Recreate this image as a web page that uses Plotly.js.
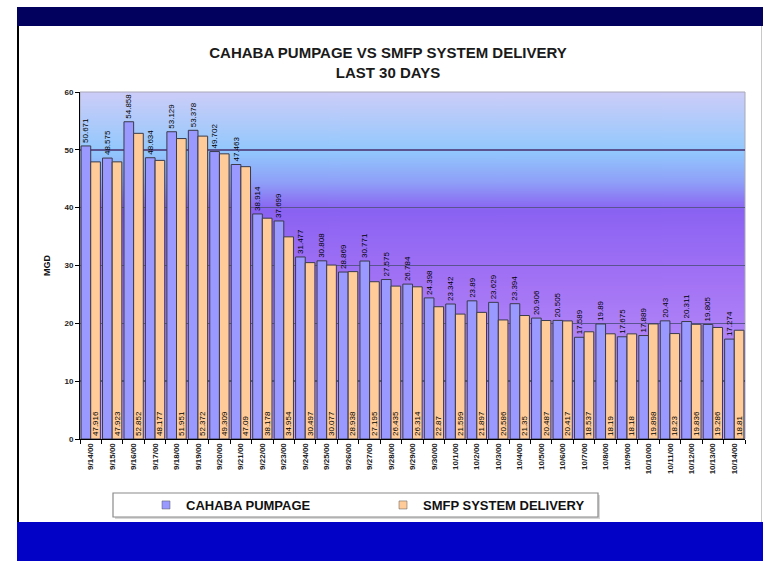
<!DOCTYPE html>
<html>
<head>
<meta charset="utf-8">
<script src="https://cdn.plot.ly/plotly-3.0.1.min.js"></script>
<style>
  html, body { margin: 0; padding: 0; background: #ffffff; }
  #chart { width: 763px; height: 561px; }
</style>
</head>
<body>
<div id="chart"></div>
<script>
// ---- Data ----
const dates = ['9/14/00','9/15/00','9/16/00','9/17/00','9/18/00','9/19/00','9/20/00','9/21/00',
  '9/22/00','9/23/00','9/24/00','9/25/00','9/26/00','9/27/00','9/28/00','9/29/00','9/30/00',
  '10/1/00','10/2/00','10/3/00','10/4/00','10/5/00','10/6/00','10/7/00','10/8/00','10/9/00',
  '10/10/00','10/11/00','10/12/00','10/13/00','10/14/00'];
const pumpage = [50.671, 48.575, 54.858, 48.634, 53.129, 53.378, 49.702, 47.463,
  38.914, 37.699, 31.477, 30.808, 28.869, 30.771, 27.575, 26.784, 24.398,
  23.342, 23.89, 23.629, 23.394, 20.906, 20.505, 17.589, 19.89, 17.675,
  17.889, 20.43, 20.311, 19.805, 17.274];
const delivery = [47.916, 47.923, 52.852, 48.177, 51.951, 52.372, 49.309, 47.09,
  38.178, 34.954, 30.497, 30.077, 28.938, 27.195, 26.435, 26.314, 22.87,
  21.599, 21.897, 20.586, 21.35, 20.487, 20.417, 18.537, 18.19, 18.18,
  19.898, 18.23, 19.836, 19.286, 18.81];
const seriesNames = ['CAHABA PUMPAGE', 'SMFP SYSTEM DELIVERY'];
const yTicks = [0, 10, 20, 30, 40, 50, 60];
const titleLines = ['CAHABA PUMPAGE VS SMFP SYSTEM DELIVERY', 'LAST 30 DAYS'];
const yTitle = 'MGD';

// ---- Layout geometry (pixels) ----
const W = 763, H = 561;
const PL = 80, PR = 745, PT = 92, PB = 439;
const px = v => (v - PL) / (PR - PL);
const py = v => (PB - v) / (PB - PT);

// ---- Background gradient for plot area ----
const cv = document.createElement('canvas');
cv.width = 4; cv.height = 400;
const ctx = cv.getContext('2d');
const g = ctx.createLinearGradient(0, 0, 0, 400);
g.addColorStop(0.00, '#cdcdf8');
g.addColorStop(0.17, '#92c8fd');
g.addColorStop(0.26, '#8fa0f8');
g.addColorStop(0.34, '#8a62f2');
g.addColorStop(0.55, '#a373f5');
g.addColorStop(1.00, '#c6a2fb');
ctx.fillStyle = g;
ctx.fillRect(0, 0, 4, 400);
const bgURL = cv.toDataURL('image/png');

const FONT = 'Liberation Sans, Arial, sans-serif';

const traces = [
  {
    type: 'bar', name: seriesNames[0], x: dates, y: pumpage,
    marker: { color: '#9999ff', line: { color: '#3a3a4a', width: 1 } },
    text: pumpage.map(String), texttemplate: '%{text}',
    textposition: 'outside', textangle: -90, cliponaxis: false,
    constraintext: 'none',
    textfont: { family: FONT, size: 8, color: '#000000' },
    showlegend: false, hoverinfo: 'x+y'
  },
  {
    type: 'bar', name: seriesNames[1], x: dates, y: delivery,
    marker: { color: '#ffcc99', line: { color: '#3a3a4a', width: 1 } },
    text: delivery.map(String), texttemplate: '%{text}',
    textposition: 'inside', insidetextanchor: 'start', textangle: -90,
    constraintext: 'none',
    insidetextfont: { family: FONT, size: 8, color: '#000000' },
    showlegend: false, hoverinfo: 'x+y'
  },
  // legend entries (small square swatches like the original)
  {
    type: 'scatter', mode: 'markers', name: seriesNames[0], x: [null], y: [null],
    marker: { symbol: 'square', size: 8, color: '#9999ff', line: { color: '#555', width: 0.5 } },
    showlegend: true, hoverinfo: 'skip'
  },
  {
    type: 'scatter', mode: 'markers', name: seriesNames[1], x: [null], y: [null],
    marker: { symbol: 'square', size: 8, color: '#ffcc99', line: { color: '#555', width: 0.5 } },
    showlegend: true, hoverinfo: 'skip'
  }
];

const shapes = [
  // top navy band
  { type: 'rect', xref: 'paper', yref: 'paper', x0: px(17), x1: px(763), y0: py(26), y1: py(7),
    fillcolor: '#02025e', line: { width: 0 }, layer: 'below' },
  // bottom blue band
  { type: 'rect', xref: 'paper', yref: 'paper', x0: px(17), x1: px(763), y0: py(561), y1: py(522),
    fillcolor: '#0202c6', line: { width: 0 }, layer: 'below' },
  // left dark border
  { type: 'rect', xref: 'paper', yref: 'paper', x0: px(17), x1: px(19), y0: py(522), y1: py(26),
    fillcolor: '#000000', line: { width: 0 }, layer: 'below' },
  // right thin border
  { type: 'rect', xref: 'paper', yref: 'paper', x0: px(761), x1: px(762), y0: py(522), y1: py(26),
    fillcolor: '#c8c8c8', line: { width: 0 }, layer: 'below' },
  // plot area outline
  { type: 'rect', xref: 'paper', yref: 'paper', x0: 0, x1: 1, y0: 0, y1: 1,
    fillcolor: 'rgba(0,0,0,0)', line: { color: '#a8a8b8', width: 1 }, layer: 'below' },
  // legend shadow + box
  { type: 'rect', xref: 'paper', yref: 'paper', x0: px(115), x1: px(600), y0: py(519), y1: py(495),
    fillcolor: '#d8d8d8', line: { width: 0 }, layer: 'below' },
  { type: 'rect', xref: 'paper', yref: 'paper', x0: px(113), x1: px(598), y0: py(517), y1: py(493),
    fillcolor: '#ffffff', line: { color: '#8a8a8a', width: 1.2 }, layer: 'below' }
];

const layout = {
  width: W, height: H,
  margin: { l: PL, r: W - PR, t: PT, b: H - PB, pad: 0 },
  paper_bgcolor: '#ffffff',
  plot_bgcolor: 'rgba(0,0,0,0)',
  font: { family: FONT, color: '#111111' },
  title: {
    text: titleLines.join('<br>'),
    font: { family: FONT, size: 15, weight: 'bold', color: '#1a1a1a' },
    x: 388 / W, xref: 'container', xanchor: 'center',
    y: 1 - 58 / H, yref: 'container', yanchor: 'middle'
  },
  barmode: 'group', bargap: 0.1, bargroupgap: 0,
  xaxis: {
    type: 'category', automargin: false,
    showline: true, linecolor: '#000000', linewidth: 1,
    ticks: 'outside', tickson: 'boundaries', ticklen: 4, tickcolor: '#000000',
    tickangle: -90,
    tickfont: { family: FONT, size: 8, weight: 'bold', color: '#222222' },
    showgrid: false, zeroline: false, fixedrange: true
  },
  yaxis: {
    range: [0, 60], tickvals: yTicks, automargin: false,
    showline: true, linecolor: '#000000', linewidth: 1,
    ticks: 'outside', ticklen: 4, tickcolor: '#000000',
    tickfont: { family: FONT, size: 8, weight: 'bold', color: '#222222' },
    showgrid: true, gridcolor: '#5a5590', gridwidth: 1.5,
    zeroline: false, fixedrange: true,
    title: { text: yTitle, standoff: 12,
      font: { family: FONT, size: 9, weight: 'bold', color: '#111111' } }
  },
  images: [{
    source: bgURL, xref: 'paper', yref: 'paper', x: 0, y: 1, sizex: 1, sizey: 1,
    sizing: 'stretch', layer: 'below', xanchor: 'left', yanchor: 'top'
  }],
  shapes: shapes,
  showlegend: true,
  legend: {
    orientation: 'h', x: px(146), xanchor: 'left', y: py(505), yanchor: 'middle',
    bgcolor: 'rgba(0,0,0,0)', borderwidth: 0,
    entrywidth: 192, entrywidthmode: 'pixels', itemwidth: 30,
    font: { family: FONT, size: 13, weight: 'bold', color: '#111111' }
  }
};

Plotly.newPlot('chart', traces, layout, { displayModeBar: false, staticPlot: true });
</script>
</body>
</html>
